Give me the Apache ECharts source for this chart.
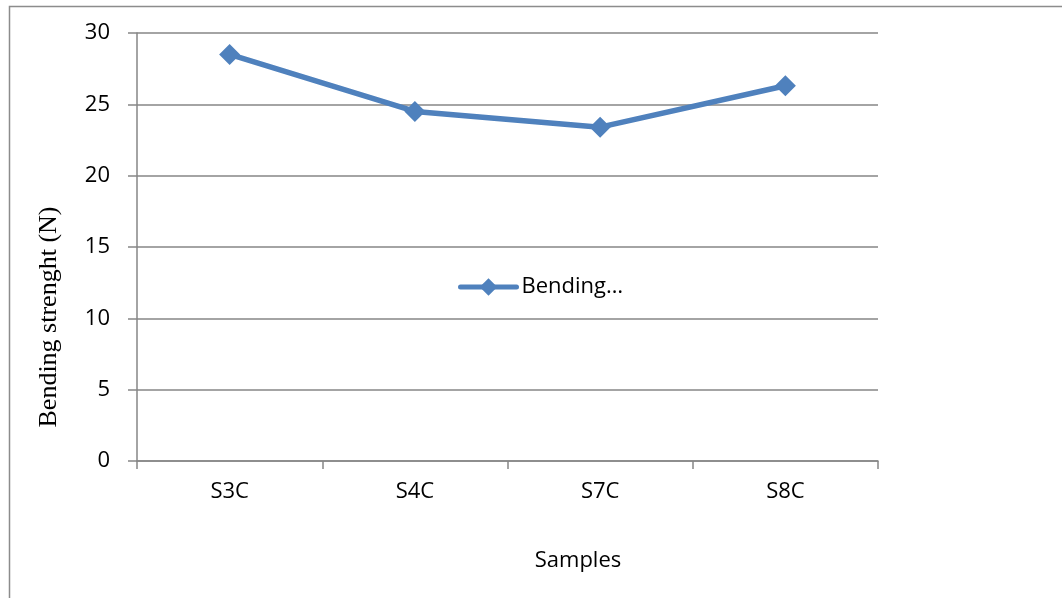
<!DOCTYPE html>
<html>
<head>
<meta charset="utf-8">
<script src="https://cdn.jsdelivr.net/npm/echarts@6/dist/echarts.min.js"></script>
<style>html,body{margin:0;padding:0;background:#fff}#c{width:1062px;height:598px}</style>
</head>
<body>
<div id="c"></div>
<script>
var categories = ['S3C', 'S4C', 'S7C', 'S8C'];
var bendingValues = [28.5, 24.5, 23.4, 26.3];
var seriesName = 'Bending strenght';
var yMin = 0, yMax = 30, yInterval = 5;

var chart = echarts.init(document.getElementById('c'));
chart.setOption({
  animation: false,
  backgroundColor: '#fff',
  grid: { left: 137, top: 33, right: 184, bottom: 137, containLabel: false },
  title: [
    { text: 'Samples', left: 573, top: 545, textAlign: 'center',
      textStyle: { fontFamily: 'Open Sans', fontSize: 22, fontWeight: 'normal', color: '#000' } }
  ],
  graphic: [
    { type: 'rect', shape: { x: 9.5, y: 6.5, width: 2000, height: 2000 },
      style: { fill: 'none', stroke: '#8c8c8c', lineWidth: 1.5 }, silent: true },
    { type: 'text', x: 49, y: 317, rotation: Math.PI / 2,
      style: { text: 'Bending strenght (N)', fontFamily: 'Liberation Serif', fontSize: 26,
        fill: '#000', align: 'center', verticalAlign: 'middle' } }
  ],
  legend: {
    data: [seriesName],
    left: 458, top: 276, padding: 0,
    itemWidth: 56, itemHeight: 22, itemGap: 3,
    formatter: function () { return 'Bending…'; },
    lineStyle: { width: 5, color: '#4F81BD', cap: 'round' },
    itemStyle: { color: '#4F81BD' },
    textStyle: { fontFamily: 'Open Sans', fontSize: 22, color: '#000' }
  },
  xAxis: {
    type: 'category',
    data: categories,
    boundaryGap: true,
    axisLine: { lineStyle: { color: '#868686', width: 1.5 } },
    axisTick: { show: true, length: 8, lineStyle: { color: '#868686', width: 1.5 } },
    axisLabel: { margin: 20, fontFamily: 'Open Sans', fontSize: 22, color: '#000' },
    splitLine: { show: false }
  },
  yAxis: {
    type: 'value',
    min: yMin, max: yMax, interval: yInterval,
    axisLine: { show: true, lineStyle: { color: '#868686', width: 1.5 } },
    axisTick: { show: true, length: 9, lineStyle: { color: '#868686', width: 1.5 } },
    axisLabel: { margin: 27, fontFamily: 'Open Sans', fontSize: 22, color: '#000' },
    splitLine: { show: true, lineStyle: { color: '#868686', width: 1.5 } }
  },
  series: [{
    name: seriesName,
    type: 'line',
    data: bendingValues,
    symbol: 'diamond',
    symbolSize: 21,
    lineStyle: { color: '#4F81BD', width: 5.5 },
    itemStyle: { color: '#4F81BD' }
  }]
});
</script>
</body>
</html>
